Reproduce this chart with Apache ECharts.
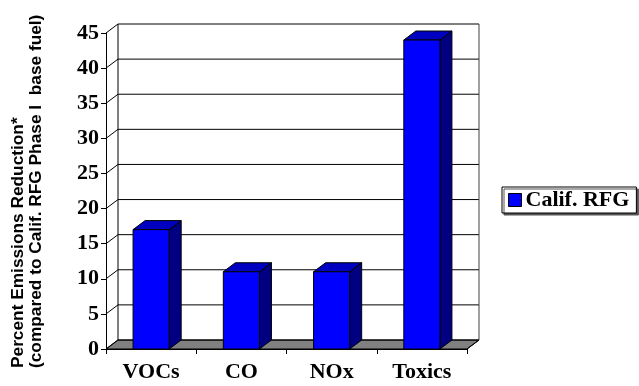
<!DOCTYPE html>
<html>
<head>
<meta charset="utf-8">
<script src="https://cdn.jsdelivr.net/npm/echarts@6/dist/echarts.min.js"></script>
<style>
  html, body { margin: 0; padding: 0; background: #fff; }
  #chart { width: 639px; height: 386px; }
</style>
</head>
<body>
<div id="chart"></div>
<script>
// Emission reductions of California reformulated gasoline, by pollutant
const categories = ['VOCs', 'CO', 'NOx', 'Toxics'];
const reductions = [17, 11, 11, 44];
const seriesName = 'Calif. RFG';
const yTicks = [0, 5, 10, 15, 20, 25, 30, 35, 40, 45];
const titleLines = [
  'Percent Emissions Reduction*',
  '(compared to Calif. RFG Phase I  base fuel)'
];

// depth of the pseudo-3D box (pixels to the right / upward)
const DX = 12, DY = 9;
const serifFamily = '"Liberation Serif", "Times New Roman", serif';

const chart = echarts.init(document.getElementById('chart'));

// back wall, side wall and floor of the box
function renderWalls(params, api) {
  const cs = params.coordSys;
  const left = cs.x, right = cs.x + cs.width;
  const y0 = api.coord([0, 0])[1];
  const yTop = api.coord([0, yTicks[yTicks.length - 1]])[1];
  const line = '#000';
  const children = [];
  // floor
  children.push({
    type: 'polygon',
    shape: { points: [[left, y0], [right, y0], [right + DX, y0 - DY], [left + DX, y0 - DY]] },
    style: { fill: '#808080', stroke: line, lineWidth: 1 }
  });
  // grid lines on side wall and back wall
  yTicks.forEach(function (v) {
    const y = api.coord([0, v])[1];
    children.push({
      type: 'polyline',
      shape: { points: [[left, y], [left + DX, y - DY], [right + DX, y - DY]] },
      style: { fill: null, stroke: line, lineWidth: 1 }
    });
  });
  // back wall verticals
  children.push({
    type: 'line',
    shape: { x1: left + DX, y1: yTop - DY, x2: left + DX, y2: y0 - DY },
    style: { stroke: line, lineWidth: 1 }
  });
  children.push({
    type: 'line',
    shape: { x1: right + DX, y1: yTop - DY, x2: right + DX, y2: y0 - DY },
    style: { stroke: '#404040', lineWidth: 1 }
  });
  children.push({
    type: 'line',
    shape: { x1: right, y1: y0, x2: right + DX, y2: y0 - DY },
    style: { stroke: line, lineWidth: 1 }
  });
  return { type: 'group', children: children };
}

// one column with front, top and side faces
function renderBar(params, api) {
  const idx = api.value(0);
  const val = api.value(1);
  const top = api.coord([idx, val]);
  const base = api.coord([idx, 0]);
  const band = api.size([1, 0])[0];
  const w = band * 0.4;
  const x0 = top[0] - w / 2, x1 = top[0] + w / 2;
  const yt = top[1], yb = base[1];
  const stroke = { stroke: '#000', lineWidth: 1 };
  return {
    type: 'group',
    children: [
      {
        type: 'polygon',
        shape: { points: [[x1, yt], [x1 + DX, yt - DY], [x1 + DX, yb - DY], [x1, yb]] },
        style: Object.assign({ fill: '#000080' }, stroke)
      },
      {
        type: 'polygon',
        shape: { points: [[x0, yt], [x1, yt], [x1 + DX, yt - DY], [x0 + DX, yt - DY]] },
        style: Object.assign({ fill: '#0000C0' }, stroke)
      },
      {
        type: 'rect',
        shape: { x: x0, y: yt, width: x1 - x0, height: yb - yt },
        style: Object.assign({ fill: '#0000FF' }, stroke)
      }
    ]
  };
}

chart.setOption({
  animation: false,
  backgroundColor: '#fff',
  grid: { left: 106, top: 33, width: 361, height: 316, containLabel: false },
  xAxis: {
    type: 'category',
    data: categories,
    boundaryGap: true,
    axisLine: { show: true, lineStyle: { color: '#000', width: 1 } },
    axisTick: { show: true, length: 5, lineStyle: { color: '#000' } },
    axisLabel: {
      fontFamily: serifFamily, fontWeight: 'bold', fontSize: 22,
      color: '#000', margin: 12
    },
    splitLine: { show: false }
  },
  yAxis: {
    type: 'value',
    min: 0,
    max: 45,
    interval: 5,
    axisLine: { show: true, lineStyle: { color: '#000', width: 1 } },
    axisTick: { show: true, length: 5, lineStyle: { color: '#000' } },
    axisLabel: {
      fontFamily: serifFamily, fontWeight: 'bold', fontSize: 22,
      color: '#000', margin: 7
    },
    splitLine: { show: false }
  },
  legend: {
    data: [seriesName],
    left: 502,
    top: 187,
    orient: 'vertical',
    icon: 'rect',
    itemWidth: 13,
    itemHeight: 13,
    itemGap: 0,
    padding: [2, 7, 2, 6],
    backgroundColor: '#fff',
    borderColor: '#000',
    borderWidth: 1,
    shadowColor: '#555',
    shadowBlur: 0,
    shadowOffsetX: 2,
    shadowOffsetY: 2,
    itemStyle: { borderColor: '#000', borderWidth: 1 },
    textStyle: {
      fontFamily: serifFamily,
      fontWeight: 'bold',
      fontSize: 22,
      color: '#000',
      padding: [0, 0, 0, -1]
    }
  },
  graphic: titleLines.map(function (t, i) {
    return {
      type: 'text',
      x: 18 + i * 18,
      y: 368,
      rotation: Math.PI / 2,
      style: {
        text: t,
        font: 'bold 17.3px "Liberation Sans", Arial, sans-serif',
        fill: '#000',
        align: 'left',
        verticalAlign: 'middle',
        textAlign: 'left',
        textVerticalAlign: 'middle'
      }
    };
  }),
  series: [
    {
      type: 'custom',
      name: 'box',
      silent: true,
      z: 1,
      renderItem: renderWalls,
      data: [[0, 0]]
    },
    {
      type: 'custom',
      name: seriesName,
      z: 2,
      itemStyle: { color: '#0000FF' },
      renderItem: renderBar,
      encode: { x: 0, y: 1 },
      data: reductions.map(function (v, i) { return [i, v]; })
    }
  ]
});
</script>
</body>
</html>
